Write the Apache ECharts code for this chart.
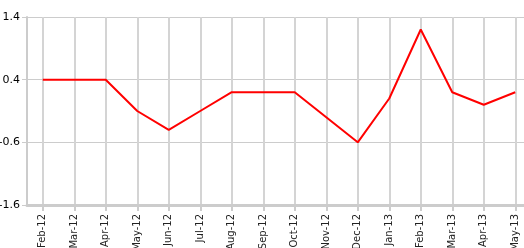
<!DOCTYPE html>
<html><head><meta charset="utf-8">
<script src="https://cdn.jsdelivr.net/npm/echarts@6/dist/echarts.min.js"></script>
<style>html,body{margin:0;padding:0;background:#fff;}#c{width:524px;height:248px;}</style>
</head><body><div id="c"></div>
<script>
const categories = ['Feb-12','Mar-12','Apr-12','May-12','Jun-12','Jul-12','Aug-12','Sep-12','Oct-12','Nov-12','Dec-12','Jan-13','Feb-13','Mar-13','Apr-13','May-13'];
const values = [0.4, 0.4, 0.4, -0.1, -0.4, -0.1, 0.2, 0.2, 0.2, -0.2, -0.6, 0.1, 1.2, 0.2, 0.0, 0.2];
const yMin = -1.6, yMax = 1.4, yStep = 1;

const chart = echarts.init(document.getElementById('c'), null, {renderer: 'canvas'});
chart.setOption({
  animation: false,
  grid: {left: 27, right: -7, top: 17, bottom: 43, containLabel: false, outerBoundsMode: 'none'},
  xAxis: {
    type: 'category',
    data: categories,
    boundaryGap: true,
    axisLine: {show: true, onZero: false, lineStyle: {color: '#cccccc', width: 3}},
    axisTick: {show: true, alignWithLabel: true, length: 6, lineStyle: {color: '#cccccc', width: 2}},
    splitLine: {show: true, alignWithLabel: true, lineStyle: {color: '#d4d4d4', width: 2}},
    axisLabel: {rotate: 90, interval: 0, margin: 9, color: '#222', fontFamily: 'DejaVu Sans', fontSize: 10}
  },
  yAxis: {
    type: 'value',
    min: yMin, max: yMax, interval: yStep,
    axisLine: {show: true, lineStyle: {color: '#cccccc', width: 2}},
    axisTick: {show: true, length: 5, lineStyle: {color: '#cccccc', width: 1}},
    splitLine: {show: true, lineStyle: {color: '#cccccc', width: 1}},
    axisLabel: {margin: 7, color: '#000', fontFamily: 'DejaVu Sans', fontSize: 11,
      formatter: v => (Math.round(v*10)/10).toFixed(1)}
  },
  series: [{
    type: 'line',
    data: values,
    showSymbol: false,
    symbol: 'none',
    lineStyle: {color: '#ff0000', width: 2},
    itemStyle: {color: '#ff0000'}
  }]
});
</script></body></html>
